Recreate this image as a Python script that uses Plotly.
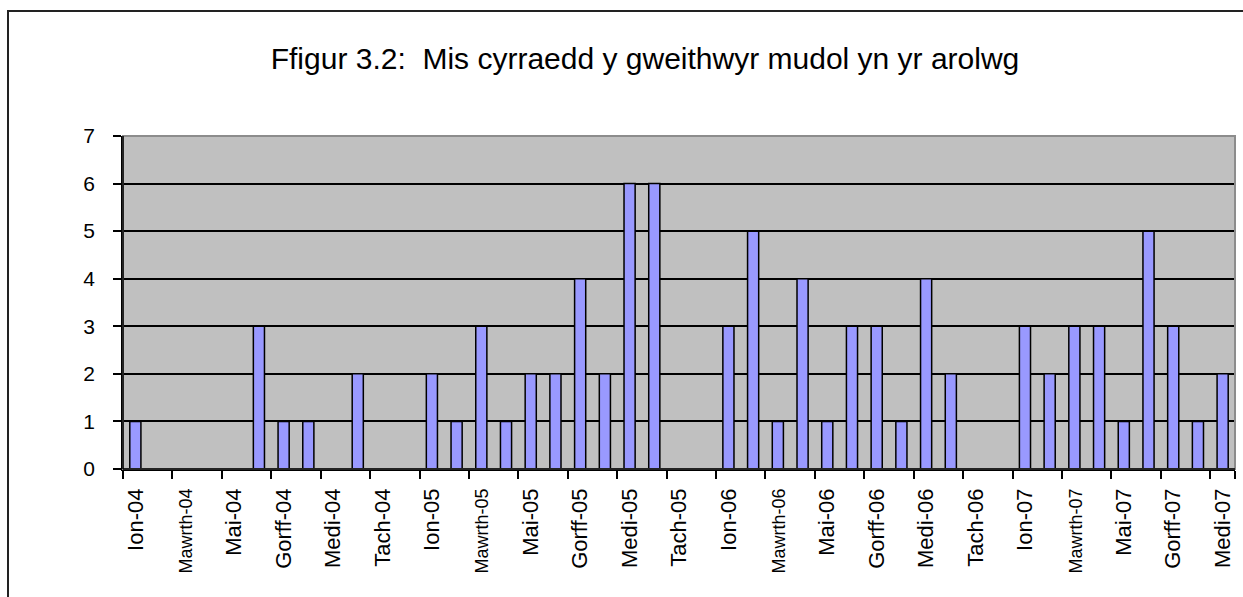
import plotly.graph_objects as go

# ---- data ----
month_names = ["Ion", "Chwef", "Mawrth", "Ebrill", "Mai", "Meh",
               "Gorff", "Awst", "Medi", "Hyd", "Tach", "Rhag"]
years = ["04", "05", "06", "07"]
categories = [f"{m}-{y}" for y in years for m in month_names][:45]  # Ion-04 .. Medi-07

arrivals = [1, 0, 0, 0, 0, 3, 1, 1, 0, 2, 0, 0,
            2, 1, 3, 1, 2, 2, 4, 2, 6, 6, 0, 0,
            3, 5, 1, 4, 1, 3, 3, 1, 4, 2, 0, 0,
            3, 2, 3, 3, 1, 5, 3, 1, 2]

tick_labels = categories[::2]
y_ticks = [0, 1, 2, 3, 4, 5, 6, 7]

title_text = "Ffigur 3.2:  Mis cyrraedd y gweithwyr mudol yn yr arolwg"

# ---- figure ----
W, H = 1243, 597
L, R, T, B = 123, 8, 136, 128

ticktext = [
    f'<span style="font-size:18px">{t}</span>' if t.startswith("Mawrth") else t
    for t in tick_labels
]

fig = go.Figure(go.Bar(
    x=categories,
    y=arrivals,
    marker=dict(color="#9999FF", line=dict(color="#000000", width=1.5)),
    hoverinfo="x+y",
))

fig.update_layout(
    width=W, height=H,
    margin=dict(l=L, r=R, t=T, b=B, pad=0, autoexpand=False),
    paper_bgcolor="white",
    plot_bgcolor="#C0C0C0",
    bargap=0.55,
    showlegend=False,
    font=dict(family="Liberation Sans, Arial, sans-serif", color="black"),
    title=dict(text=title_text, x=645 / W, xanchor="center",
               y=1 - 58 / H, yanchor="middle",
               font=dict(size=30, family="Liberation Sans, Arial, sans-serif", color="black")),
    xaxis=dict(
        type="category",
        categoryorder="array", categoryarray=categories,
        range=[-0.5, len(categories) - 0.5],
        tickmode="array", tickvals=tick_labels, ticktext=ticktext,
        tickson="boundaries",
        ticks="outside", ticklen=8, tickwidth=1.5, tickcolor="black",
        tickangle=-90,
        tickfont=dict(size=22, color="black"),
        ticklabelstandoff=9,
        showline=True, linecolor="black", linewidth=1.5,
        showgrid=False, zeroline=False, automargin=False,
    ),
    yaxis=dict(
        range=[0, 7],
        tickmode="array", tickvals=y_ticks,
        ticks="outside", ticklen=8, tickwidth=1.5, tickcolor="black",
        tickfont=dict(size=21, color="black"),
        ticklabelstandoff=14,
        showline=True, linecolor="black", linewidth=1.5,
        showgrid=True, gridcolor="black", gridwidth=1.5,
        zeroline=False, automargin=False,
    ),
    shapes=[
        # plot-area border (gray top/right)
        dict(type="rect", xref="paper", yref="paper", x0=0, x1=1, y0=0, y1=1,
             line=dict(color="#8C8C8C", width=2), layer="above"),
        # outer chart frame
        dict(type="rect", xref="paper", yref="paper",
             x0=(8 - L) / (W - L - R), x1=(W + 20 - L) / (W - L - R),
             y0=-(H + 20 - (H - B)) / (H - T - B), y1=((H - B) - 11) / (H - T - B),
             line=dict(color="#222222", width=2), fillcolor="rgba(0,0,0,0)", layer="below"),
    ],
)
# redraw left and bottom axis lines over the gray border
fig.add_shape(type="line", xref="paper", yref="paper", x0=0, x1=0, y0=0, y1=1,
              line=dict(color="black", width=1.5), layer="above")
fig.add_shape(type="line", xref="paper", yref="paper", x0=0, x1=1, y0=0, y1=0,
              line=dict(color="black", width=1.5), layer="above")

fig.write_html("out.html", config={"displayModeBar": False},
               post_script="document.body.style.margin='0px';")
